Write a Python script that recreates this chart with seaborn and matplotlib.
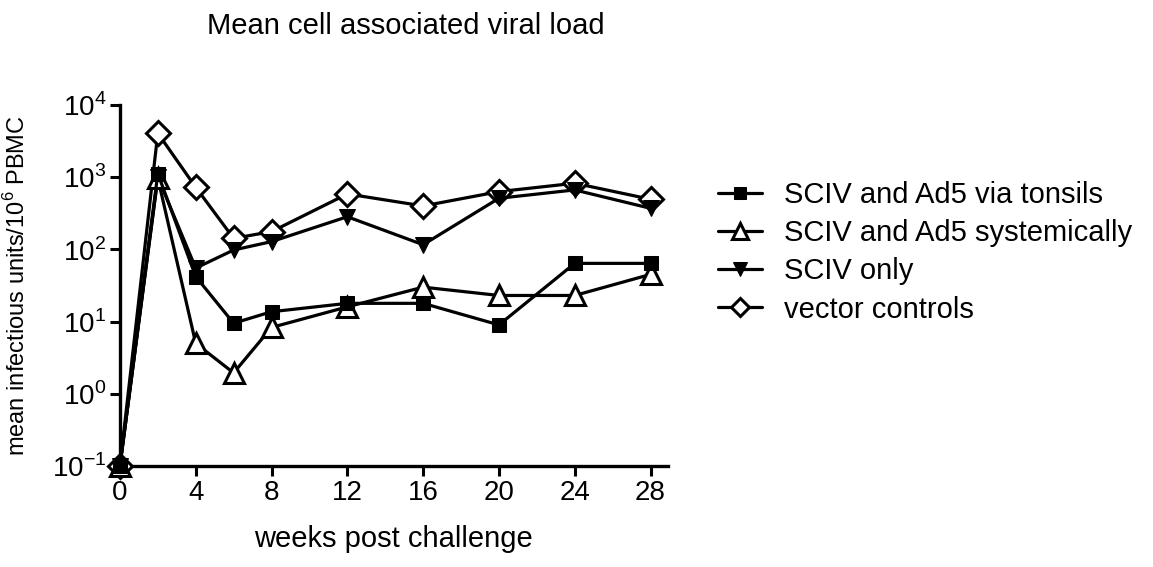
import numpy as np
import seaborn as sns
import matplotlib.pyplot as plt
from matplotlib.ticker import FixedLocator

sns.set_style("ticks")
plt.rcParams['font.family'] = ['Liberation Sans', 'DejaVu Sans']
plt.rcParams['mathtext.fontset'] = 'custom'
plt.rcParams['mathtext.rm'] = 'Liberation Sans'
plt.rcParams['text.color'] = 'black'
plt.rcParams['axes.labelcolor'] = 'black'

weeks = [0, 2, 4, 6, 8, 12, 16, 20, 24, 28]
tonsils = [0.1, 1120, 42, 9.5, 13.7, 17.9, 17.9, 9.0, 64, 64]
systemic = [0.1, 970, 5.0, 1.95, 8.3, 16, 30, 23, 23, 45]
sciv_only = [0.1, 1000, 55, 98, 128, 283, 116, 510, 665, 370]
vector = [0.1, 4060, 724, 142, 176, 585, 399, 630, 823, 494]

labels = ["SCIV and Ad5 via tonsils", "SCIV and Ad5 systemically",
          "SCIV only", "vector controls"]

fig = plt.figure(figsize=(11.53, 5.67), dpi=100)
ax = fig.add_axes([0.104, 0.178, 0.475, 0.637])

lw = 2.3
sns.lineplot(x=weeks, y=vector, ax=ax, color='black', lw=lw, marker='D',
             markersize=12, markerfacecolor='white', markeredgecolor='black',
             markeredgewidth=2.2, label=labels[3], zorder=3, clip_on=False)
sns.lineplot(x=weeks, y=sciv_only, ax=ax, color='black', lw=lw, marker='v',
             markersize=12, markerfacecolor='black', markeredgecolor='black',
             label=labels[2], zorder=4, clip_on=False)
sns.lineplot(x=weeks, y=systemic, ax=ax, color='black', lw=lw, marker='^',
             markersize=14, markerfacecolor='white', markeredgecolor='black',
             markeredgewidth=2.2, label=labels[1], zorder=5, clip_on=False)
sns.lineplot(x=weeks, y=tonsils, ax=ax, color='black', lw=lw, marker='s',
             markersize=10, markerfacecolor='black', markeredgecolor='black',
             label=labels[0], zorder=6, clip_on=False)

ax.set_yscale('log')
ax.set_ylim(0.1, 1e4)
ax.set_xlim(0, 28.9)
ax.yaxis.set_major_locator(FixedLocator([0.1, 1, 10, 100, 1000, 10000]))
ax.yaxis.set_minor_locator(FixedLocator([]))
ax.set_yticklabels([r'$10^{-1}$', r'$10^{0}$', r'$10^{1}$', r'$10^{2}$',
                    r'$10^{3}$', r'$10^{4}$'])
ax.set_xticks([0, 4, 8, 12, 16, 20, 24, 28])
ax.tick_params(axis='both', which='major', length=7, width=2.2,
               labelsize=20, color='black', labelcolor='black', pad=3)
for s in ['left', 'bottom']:
    ax.spines[s].set_linewidth(2.4)
    ax.spines[s].set_color('black')
sns.despine(ax=ax)

ax.set_xlabel("weeks post challenge", fontsize=21, labelpad=14)
ax.set_ylabel(r"mean infectious units/10$^{6}$ PBMC", fontsize=17, labelpad=16)
fig.text(0.352, 0.955, "Mean cell associated viral load", ha='center',
         va='center', fontsize=21)

h, l = ax.get_legend_handles_labels()
hd = dict(zip(l, h))
ax.legend([hd[x] for x in labels], labels, loc='upper left',
          bbox_to_anchor=(1.045, 0.862), frameon=False, fontsize=21,
          handlelength=1.5, labelspacing=0.35, handletextpad=0.75,
          markerscale=0.8)

fig.savefig("out.png", dpi=100)
